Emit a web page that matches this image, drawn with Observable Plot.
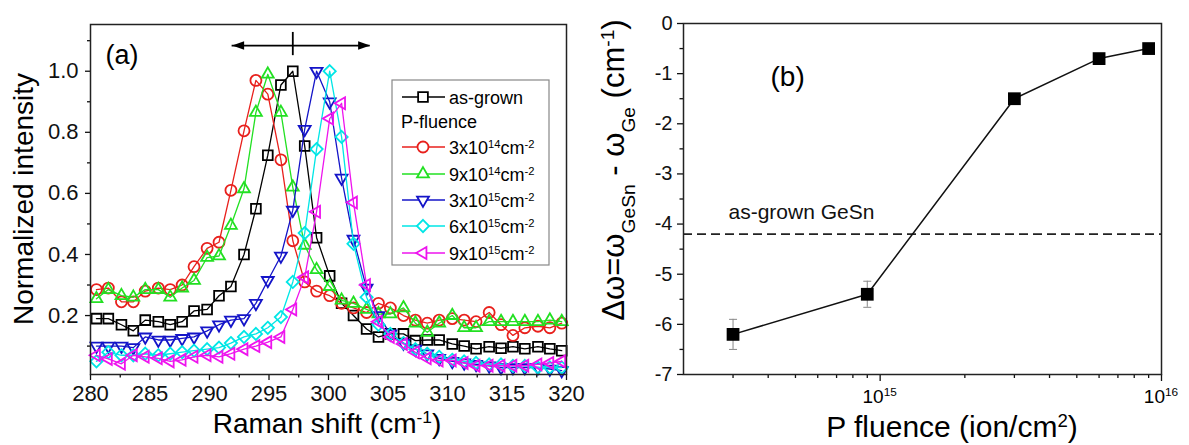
<!DOCTYPE html>
<html><head><meta charset="utf-8">
<script src="https://cdn.jsdelivr.net/npm/d3@7"></script>
<script src="https://cdn.jsdelivr.net/npm/@observablehq/plot@0.6"></script>
<style>
html,body{margin:0;padding:0;background:#fff;}
#wrap{position:relative;width:1189px;height:445px;overflow:hidden;background:#fff;font-family:"Liberation Sans",Arial,sans-serif;}
#wrap svg{position:absolute;top:0;}
</style></head><body><div id="wrap"></div>
<script>
// ---------- Panel (a) data ----------
const ramanShift = [280.5,281.5,282.6,283.6,284.6,285.7,286.7,287.7,288.7,289.8,290.8,291.8,292.9,293.9,294.9,296.0,297.0,298.0,299.0,300.1,301.1,302.1,303.2,304.2,305.2,306.3,307.3,308.3,309.3,310.4,311.4,312.4,313.5,314.5,315.5,316.5,317.6,318.6,319.6];
const asGrown = [0.19,0.19,0.17,0.15,0.185,0.18,0.17,0.18,0.215,0.22,0.265,0.295,0.40,0.55,0.725,0.955,1.0,0.755,0.455,0.33,0.24,0.20,0.156,0.13,0.14,0.14,0.118,0.12,0.12,0.107,0.10,0.091,0.098,0.093,0.098,0.091,0.098,0.091,0.085];
const fluence3e14 = [0.285,0.29,0.245,0.245,0.28,0.29,0.285,0.30,0.36,0.42,0.44,0.61,0.805,0.97,0.925,0.71,0.445,0.31,0.28,0.265,0.24,0.225,0.21,0.24,0.225,0.20,0.185,0.175,0.185,0.19,0.185,0.18,0.21,0.17,0.135,0.16,0.165,0.16,0.175];
const fluence9e14 = [0.255,0.285,0.265,0.26,0.285,0.285,0.26,0.29,0.315,0.39,0.395,0.495,0.615,0.865,0.99,0.865,0.62,0.43,0.35,0.295,0.25,0.24,0.22,0.205,0.205,0.225,0.175,0.145,0.175,0.2,0.16,0.16,0.18,0.18,0.18,0.18,0.18,0.185,0.18];
const fluence3e15 = [0.10,0.10,0.10,0.095,0.13,0.12,0.12,0.125,0.13,0.15,0.17,0.185,0.19,0.24,0.315,0.395,0.545,0.81,1.0,0.9,0.65,0.45,0.29,0.20,0.14,0.11,0.09,0.075,0.06,0.05,0.045,0.04,0.035,0.03,0.03,0.03,0.03,0.025,0.02];
const fluence6e15 = [0.05,0.08,0.07,0.07,0.075,0.07,0.075,0.08,0.085,0.09,0.095,0.11,0.13,0.14,0.16,0.195,0.31,0.47,0.745,1.0,0.785,0.435,0.26,0.17,0.14,0.11,0.09,0.075,0.065,0.055,0.05,0.045,0.04,0.04,0.035,0.035,0.03,0.03,0.03];
const fluence9e15 = [0.07,0.058,0.042,0.07,0.065,0.06,0.05,0.055,0.065,0.07,0.065,0.075,0.09,0.10,0.113,0.13,0.22,0.325,0.54,0.845,0.895,0.57,0.30,0.18,0.13,0.107,0.08,0.06,0.053,0.053,0.045,0.036,0.036,0.036,0.036,0.036,0.04,0.045,0.05];
const seriesLabels = ["as-grown","3x10^{14}cm^{-2}","9x10^{14}cm^{-2}","3x10^{15}cm^{-2}","6x10^{15}cm^{-2}","9x10^{15}cm^{-2}"];
const seriesColors = ["#000000","#e8201c","#22e022","#1414c8","#00e6e6","#ee14ee"];
const xTicksA = [280,285,290,295,300,305,310,315,320];
const xMinorA = [282.5,287.5,292.5,297.5,302.5,307.5,312.5,317.5];
const yTicksA = [0.2,0.4,0.6,0.8,1.0];
const yMinorA = [0.1,0.3,0.5,0.7,0.9,1.1];
const shiftArrow = {y: 1.084, from: 291.9, to: 303.5, barLow: 1.051, barHigh: 1.127};

// ---------- Panel (b) data ----------
const fluence = [3e14, 9e14, 3e15, 6e15, 9e15];
const deltaOmega = [-6.2, -5.4, -1.5, -0.7, -0.5];
const deltaError = [0.3, 0.26, 0, 0, 0];
const asGrownShift = -4.2;
const xTicksB = [1e15, 1e16];
const xTickLabelsB = ["10^{15}", "10^{16}"];
const xMinorB = [3e14,4e14,5e14,6e14,7e14,8e14,9e14,2e15,3e15,4e15,5e15,6e15,7e15,8e15,9e15];
const yTicksB = [0,-1,-2,-3,-4,-5,-6,-7];
const yMinorB = [-0.5,-1.5,-2.5,-3.5,-4.5,-5.5,-6.5];

const FONT = "'Liberation Sans', Arial, Helvetica, sans-serif";

// ---------- symbols ----------
const tri = (pts) => ({draw(ctx, size){ const r = Math.sqrt(size/Math.PI)*1.25; ctx.moveTo(pts[0][0]*r, pts[0][1]*r); for (let i=1;i<pts.length;i++) ctx.lineTo(pts[i][0]*r, pts[i][1]*r); ctx.closePath(); }});
const triUp = tri([[0,-1],[0.866,0.5],[-0.866,0.5]]);
const triDown = tri([[0,1],[0.866,-0.5],[-0.866,-0.5]]);
const triLeft = tri([[-1,0],[0.5,-0.866],[0.5,0.866]]);
const headLeft = {draw(ctx,size){const r=Math.sqrt(size/Math.PI); ctx.moveTo(0,0); ctx.lineTo(2*r,-0.7*r); ctx.lineTo(2*r,0.7*r); ctx.closePath();}};
const headRight = {draw(ctx,size){const r=Math.sqrt(size/Math.PI); ctx.moveTo(0,0); ctx.lineTo(-2*r,-0.7*r); ctx.lineTo(-2*r,0.7*r); ctx.closePath();}};
const hbar = {draw(ctx,size){const r=Math.sqrt(size/Math.PI); ctx.moveTo(-r,0); ctx.lineTo(r,0);}};
const seriesSymbols = [d3.symbolSquare, d3.symbolCircle, triUp, triDown, d3.symbolDiamond2, triLeft];
const seriesValues = [asGrown, fluence3e14, fluence9e14, fluence3e15, fluence6e15, fluence9e15];

// rich text helper: ^{sup} and _{sub}
function rich(sel, str, fs) {
  str.split(/([\^_]\{[^}]*\})/).forEach(p => {
    if (!p) return;
    const m = p.match(/^([\^_])\{([^}]*)\}$/);
    if (m) sel.append("tspan").attr("baseline-shift", m[1] === "^" ? "super" : "sub").attr("font-size", (fs*0.62).toFixed(1)).text(m[2]);
    else sel.append("tspan").attr("font-size", fs).text(p);
  });
}

const wrap = document.getElementById("wrap");

// ---------- Panel (a) ----------
const seriesMarks = [];
seriesValues.forEach((vals, k) => {
  const data = ramanShift.map((x, i) => ({x, y: vals[i]}));
  seriesMarks.push(Plot.line(data, {x: "x", y: "y", stroke: seriesColors[k], strokeWidth: 1.3}));
  seriesMarks.push(Plot.dot(data, {x: "x", y: "y", symbol: seriesSymbols[k], r: 5.5, stroke: seriesColors[k], strokeWidth: 1.8, fill: "none"}));
});
const peakX = ramanShift[asGrown.indexOf(d3.max(asGrown))];

const plotA = Plot.plot({
  width: 590, height: 445,
  marginLeft: 90, marginRight: 24, marginTop: 24, marginBottom: 71,
  x: {domain: [280, 320]},
  y: {domain: [0.007, 1.153]},
  style: {fontFamily: FONT, background: "transparent", color: "#111", overflow: "visible"},
  marks: [
    Plot.axisX({ticks: xTicksA, tickSize: 6, tickPadding: 5, fontSize: 22, strokeWidth: 1.3, label: null, tickFormat: d => String(d)}),
    Plot.axisX({ticks: xMinorA, tickSize: 3.5, strokeWidth: 1.3, label: null, tickFormat: () => ""}),
    Plot.axisY({ticks: yTicksA, tickSize: 5, tickPadding: 7, fontSize: 22, strokeWidth: 1.3, label: null, tickFormat: d3.format(".1f")}),
    Plot.axisY({ticks: yMinorA, tickSize: 3, strokeWidth: 1.3, label: null, tickFormat: () => ""}),
    ...seriesMarks,
    Plot.frame({stroke: "#222", strokeWidth: 1.5}),
    Plot.ruleY([shiftArrow], {y: "y", x1: "from", x2: "to", stroke: "#000", strokeWidth: 1.8}),
    Plot.ruleX([shiftArrow], {x: () => peakX, y1: "barLow", y2: "barHigh", stroke: "#000", strokeWidth: 1.8}),
    Plot.dot([shiftArrow], {x: "from", y: "y", symbol: headLeft, r: 6, fill: "#000", stroke: "none"}),
    Plot.dot([shiftArrow], {x: "to", y: "y", symbol: headRight, r: 6, fill: "#000", stroke: "none"}),
    Plot.text(["(a)"], {text: d => d, frameAnchor: "top-left", dx: 15, dy: 31, fontSize: 27, textAnchor: "start", lineAnchor: "middle", fill: "#000"})
  ]
});
wrap.appendChild(plotA);
plotA.style.left = "0px";

const gA = d3.select(plotA).append("g").attr("font-family", FONT).attr("fill", "#000");
const yTA = gA.append("text").attr("transform", "translate(33,199) rotate(-90)").attr("text-anchor", "middle").attr("font-size", 28);
rich(yTA, "Normalized intensity", 28);
const xTA = gA.append("text").attr("x", 327).attr("y", 433).attr("text-anchor", "middle").attr("font-size", 28);
rich(xTA, "Raman shift (cm^{-1})", 28);

// legend
const lg = gA.append("g").attr("text-anchor", "start");
lg.append("rect").attr("x", 392).attr("y", 80).attr("width", 157).attr("height", 185).attr("fill", "#fff").attr("stroke", "#888").attr("stroke-width", 1.2);
const rowY = [97, 147, 174, 200, 226, 253];
seriesLabels.forEach((lab, k) => {
  const y = rowY[k];
  lg.append("line").attr("x1", 402).attr("x2", 445).attr("y1", y).attr("y2", y).attr("stroke", seriesColors[k]).attr("stroke-width", 1.5);
  lg.append("path").attr("d", d3.symbol(seriesSymbols[k], Math.PI*5.5*5.5)()).attr("transform", `translate(423,${y})`).attr("fill", "#fff").attr("stroke", seriesColors[k]).attr("stroke-width", 1.8);
  const t = lg.append("text").attr("x", 449).attr("y", y + 6.5).attr("font-size", 18).attr("text-anchor", "start");
  rich(t, lab, 18);
});
lg.append("text").attr("x", 401).attr("y", 127.5).attr("font-size", 18).attr("text-anchor", "start").text("P-fluence");

// ---------- Panel (b) ----------
const pointsB = fluence.map((f, i) => ({f, d: deltaOmega[i], lo: deltaOmega[i] - deltaError[i], hi: deltaOmega[i] + deltaError[i], e: deltaError[i]}));
const errB = pointsB.filter(p => p.e > 0);

const plotB = Plot.plot({
  width: 599, height: 445,
  marginLeft: 93, marginRight: 28, marginTop: 23, marginBottom: 71,
  x: {type: "log", domain: [2e14, 1e16]},
  y: {domain: [-7, 0]},
  style: {fontFamily: FONT, background: "transparent", color: "#111", overflow: "visible"},
  marks: [
    Plot.axisX({ticks: xTicksB, tickSize: 7, strokeWidth: 1.3, label: null, tickFormat: () => ""}),
    Plot.axisX({ticks: xMinorB, tickSize: 4, strokeWidth: 1.3, label: null, tickFormat: () => ""}),
    Plot.axisY({ticks: yTicksB, tickSize: 6, tickPadding: 5, fontSize: 20, strokeWidth: 1.3, label: null, tickFormat: d => String(d)}),
    Plot.axisY({ticks: yMinorB, tickSize: 3.5, strokeWidth: 1.3, label: null, tickFormat: () => ""}),
    Plot.ruleY([asGrownShift], {stroke: "#222", strokeWidth: 1.6, strokeDasharray: "9,5"}),
    Plot.text(["as-grown GeSn"], {text: d => d, y: [asGrownShift], frameAnchor: "left", dx: 45, dy: -22, fontSize: 21, textAnchor: "start", fill: "#111"}),
    Plot.ruleX(errB, {x: "f", y1: "lo", y2: "hi", stroke: "#888", strokeWidth: 1}),
    Plot.dot(errB, {x: "f", y: "lo", symbol: hbar, r: 4, stroke: "#888", strokeWidth: 1}),
    Plot.dot(errB, {x: "f", y: "hi", symbol: hbar, r: 4, stroke: "#888", strokeWidth: 1}),
    Plot.line(pointsB, {x: "f", y: "d", stroke: "#111", strokeWidth: 1.5}),
    Plot.dot(pointsB, {x: "f", y: "d", symbol: "square", r: 7.2, fill: "#000", stroke: "none"}),
    Plot.frame({stroke: "#222", strokeWidth: 1.5}),
    Plot.text(["(b)"], {text: d => d, frameAnchor: "top-left", dx: 87, dy: 54, fontSize: 28, textAnchor: "start", lineAnchor: "middle", fill: "#000"})
  ]
});
wrap.appendChild(plotB);
plotB.style.left = "590px";

const gB = d3.select(plotB).append("g").attr("font-family", FONT).attr("fill", "#000");
// x tick labels with superscripts, placed through the plot's x scale
const sxB = plotB.scale("x");
xTicksB.forEach((v, i) => {
  const t = gB.append("text").attr("x", sxB.apply(v)).attr("y", 403).attr("text-anchor", "middle").attr("font-size", 19);
  rich(t, xTickLabelsB[i], 19);
});
const yTB = gB.append("text").attr("transform", "translate(34,170) rotate(-90)").attr("text-anchor", "middle").attr("font-size", 31);
rich(yTB, "Δω=ω_{GeSn} - ω_{Ge} (cm^{-1})", 31);
const xTB = gB.append("text").attr("x", 362).attr("y", 437).attr("text-anchor", "middle").attr("font-size", 30);
rich(xTB, "P fluence (ion/cm^{2})", 30);
</script>
</body></html>
